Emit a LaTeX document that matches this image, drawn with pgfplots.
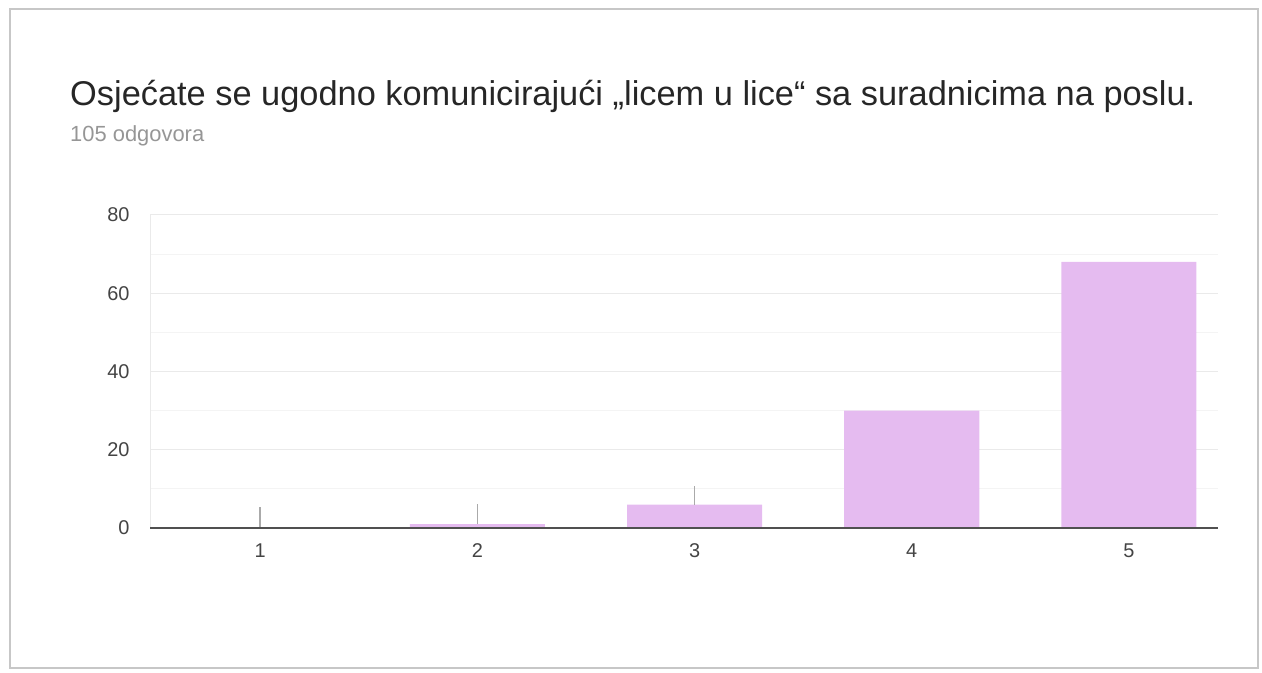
\documentclass[border=0pt]{standalone}
\usepackage{fontspec}
\setmainfont{Liberation Sans}
\usepackage{pgfplots}
\pgfplotsset{compat=1.18}
\definecolor{barc}{RGB}{229,187,240}
\definecolor{tickc}{RGB}{68,68,68}
\definecolor{subc}{RGB}{150,150,150}
\definecolor{gridc}{RGB}{234,234,234}
\definecolor{mgridc}{RGB}{244,244,244}
\definecolor{basec}{RGB}{80,80,80}
\definecolor{stemc}{RGB}{170,170,170}
\begin{document}
\begin{tikzpicture}[x=1bp,y=1bp]
\path[use as bounding box] (0,0) rectangle (1262,673);
\draw[black!22, line width=2.5bp] (10,5) rectangle (1258,664);
\node[anchor=base west, inner sep=0, font=\fontsize{34.5}{40}\selectfont, text=black!85] at (70,567) {Osjećate se ugodno komunicirajući „licem u lice“ sa suradnicima na poslu.};
\node[anchor=base west, inner sep=0, font=\fontsize{22}{26}\selectfont, text=subc] at (70,531) {105 odgovora};
\begin{axis}[
  at={(150bp,145bp)}, anchor=south west,
  width=1068bp, height=313bp, scale only axis,
  xmin=0.493, xmax=5.41, ymin=0, ymax=80,
  xtick={1,2,3,4,5},
  ytick={0,20,40,60,80},
  minor ytick={10,30,50,70},
  ymajorgrids, yminorgrids,
  major grid style={gridc, line width=1bp},
  minor grid style={mgridc, line width=1bp},
  axis x line*=bottom, axis y line*=left,
  x axis line style={draw=none},
  y axis line style={gridc, line width=1bp},
  major tick length=0pt, minor tick length=0pt,
  /pgf/number format/assume math mode=true,
  tick label style={font=\fontsize{20}{24}\selectfont, text=tickc},
  xticklabel style={yshift=-12bp},
  yticklabel style={xshift=-17bp},
  clip=false,
]
\addplot[ybar, bar width=135bp, fill=barc, draw=none] coordinates {(1,0) (2,1) (3,6) (4,30) (5,68)};
\addplot[draw=none, mark=none, error bars/.cd, y dir=plus, y explicit, error mark=none,
  error bar style={draw=stemc, line width=1.5bp}]
  coordinates {(1,0) +- (0,5.4) (2,1) +- (0,5.1) (3,6) +- (0,4.7)};
\draw[basec, line width=2bp] (axis cs:0.493,0) -- (axis cs:5.41,0);
\end{axis}
\end{tikzpicture}
\end{document}
